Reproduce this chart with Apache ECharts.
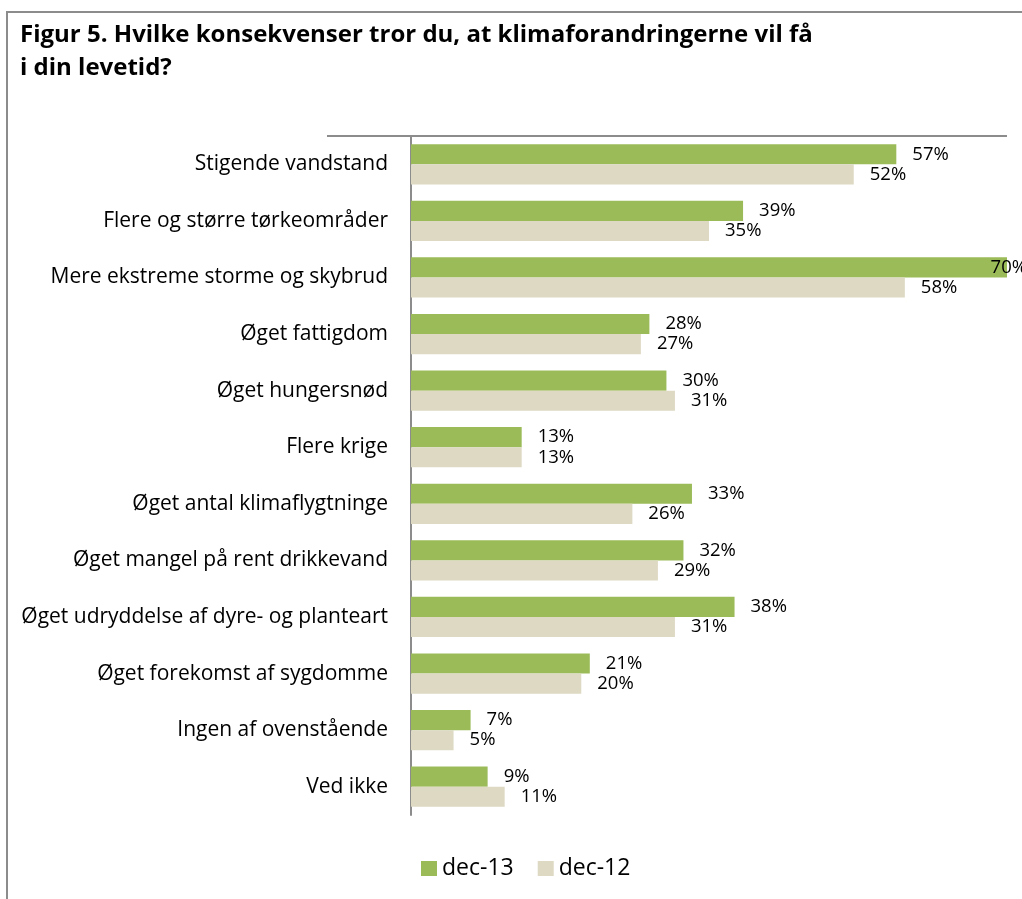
<!DOCTYPE html>
<html>
<head>
<meta charset="utf-8">
<script src="https://cdn.jsdelivr.net/npm/echarts@6/dist/echarts.min.js"></script>
<style>
  html, body { margin: 0; padding: 0; background: #fff; }
  #chart { width: 1022px; height: 899px; }
</style>
</head>
<body>
<div id="chart"></div>
<script>
// Kategorier (oppefra og ned)
const kategorier = [
  'Stigende vandstand',
  'Flere og større tørkeområder',
  'Mere ekstreme storme og skybrud',
  'Øget fattigdom',
  'Øget hungersnød',
  'Flere krige',
  'Øget antal klimaflygtninge',
  'Øget mangel på rent drikkevand',
  'Øget udryddelse af dyre- og planteart',
  'Øget forekomst af sygdomme',
  'Ingen af ovenstående',
  'Ved ikke'
];
const dec13 = [57, 39, 70, 28, 30, 13, 33, 32, 38, 21, 7, 9];
const dec12 = [52, 35, 58, 27, 31, 13, 26, 29, 31, 20, 5, 11];
const serieNavne = ['dec-13', 'dec-12'];
const farver = ['#9BBB59', '#DDD9C3'];
const aksMax = 70;

const FONT = '"Open Sans", Lato, sans-serif';

// værdier på aksens maksimum får etiketten skubbet ud mod kanten
function tilData(vaerdier) {
  return vaerdier.map(v => v >= aksMax
    ? { value: v, label: { position: 'insideRight', distance: 0, offset: [20, 0] } }
    : v);
}

const chart = echarts.init(document.getElementById('chart'));
const option = {
  animation: false,
  textStyle: { fontFamily: FONT },
  graphic: [
    {
      type: 'rect',
      shape: { x: 7, y: 12, width: 1100, height: 1000 },
      style: { fill: 'none', stroke: '#8c8c8c', lineWidth: 2 }
    },
    {
      type: 'text',
      left: 20, top: 19,
      style: {
        text: 'Figur 5. Hvilke konsekvenser tror du, at klimaforandringerne vil få\ni din levetid?',
        font: 'bold 24px ' + FONT,
        lineHeight: 33,
        fill: '#000'
      }
    },
    {
      type: 'line',
      shape: { x1: 327, y1: 136, x2: 1007, y2: 136 },
      style: { stroke: '#8c8c8c', lineWidth: 2 }
    }
  ],
  legend: {
    left: 421,
    top: 857,
    padding: 0,
    itemWidth: 16,
    itemHeight: 15,
    itemGap: 24,
    icon: 'rect',
    textStyle: { fontSize: 23, color: '#000', fontFamily: FONT },
    data: serieNavne
  },
  grid: { left: 411, right: 15, top: 136, bottom: 84, containLabel: false },
  xAxis: {
    type: 'value',
    min: 0,
    max: aksMax,
    show: false,
    splitLine: { show: false }
  },
  yAxis: {
    type: 'category',
    inverse: true,
    data: kategorier,
    axisLine: { show: true, lineStyle: { color: '#8c8c8c', width: 2 } },
    axisTick: { show: false },
    axisLabel: { color: '#000', fontSize: 21, margin: 23, fontFamily: FONT }
  },
  series: [0, 1].map(i => ({
    name: serieNavne[i],
    type: 'bar',
    data: tilData([dec13, dec12][i]),
    barGap: '0%',
    barCategoryGap: '29%',
    itemStyle: { color: farver[i] },
    label: {
      show: true,
      position: 'right',
      distance: 16,
      formatter: '{c}%',
      color: '#000',
      fontSize: 18.5,
      fontFamily: FONT
    }
  }))
};
chart.setOption(option);
</script>
</body>
</html>
